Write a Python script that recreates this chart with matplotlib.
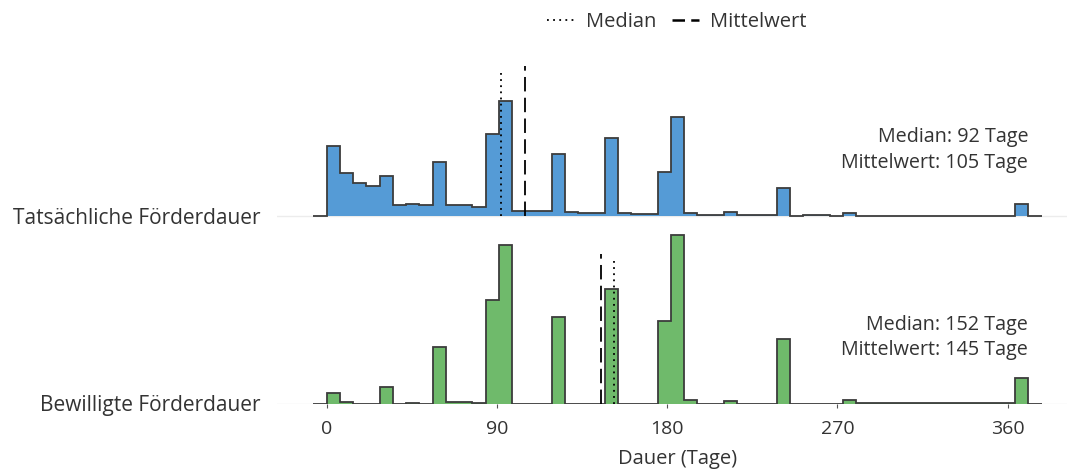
import numpy as np
import matplotlib
matplotlib.use("Agg")
import matplotlib.pyplot as plt
from matplotlib.lines import Line2D

plt.rcParams['font.family'] = ['Open Sans', 'DejaVu Sans']

# ---------------- data ----------------
rows = ["Bewilligte Förderdauer", "Tatsächliche Förderdauer"]
bin_start = -7
bin_width = 7  # days

# share of cases per weekly bin (percent), first bin [-7, 0) is empty
actual_pct = [0.0,
    7.7, 4.8, 3.6, 3.3, 4.4, 1.25, 1.3, 1.2, 6.0, 1.25, 1.2, 0.95, 9.1, 12.7,
    0.6, 0.6, 0.6, 6.85, 0.4, 0.38, 0.33, 8.6, 0.33, 0.25, 0.25, 4.9, 10.9,
    0.36, 0.08, 0.06, 0.4, 0.06, 0.06, 0.06, 3.1, 0.04, 0.06, 0.06, 0.04, 0.33,
    0.03, 0.03, 0.03, 0.03, 0.03, 0.03, 0.03, 0.03, 0.03, 0.03, 0.03, 0.03,
    1.36, 0.0]
approved_pct = [0.0,
    1.14, 0.14, 0.0, 0.0, 1.77, 0.0, 0.08, 0.0, 6.2, 0.22, 0.14, 0.03, 11.4, 17.5,
    0.0, 0.0, 0.0, 9.6, 0.0, 0.0, 0.0, 12.7, 0.0, 0.0, 0.0, 9.1, 18.6,
    0.36, 0.0, 0.0, 0.33, 0.0, 0.0, 0.0, 7.1, 0.0, 0.0, 0.0, 0.0, 0.44,
    0.02, 0.02, 0.02, 0.02, 0.02, 0.02, 0.02, 0.02, 0.02, 0.02, 0.02, 0.02,
    2.84, 0.0]

medians = [152, 92]   # bewilligt, tatsächlich
means = [145, 105]
colors = ["#6fba6b", "#559bd6"]
xticks = [0, 90, 180, 270, 360]

# ---------------- figure ----------------
W, H = 1067, 470
fig = plt.figure(figsize=(W / 100, H / 100), dpi=100)
ax_left, ax_right = 277, 1078
ax_bottom, ax_top = 403.5, 50
ax = fig.add_axes([ax_left / W, 1 - ax_bottom / H,
                   (ax_right - ax_left) / W, (ax_bottom - ax_top) / H])

row_px = 187.5
ax.set_ylim(0, (ax_bottom - ax_top) / row_px)
ax.set_xlim(-26.25, 397.25)

scale = 9.05 / row_px  # per percent
edge_col = "#3c3c3c"
data = [approved_pct, actual_pct]
txt_col = "#333333"

for i, vals in enumerate(data):
    vals = np.asarray(vals)
    edges = bin_start + bin_width * np.arange(len(vals) + 1)
    ax.stairs(vals * scale + i, edges, baseline=i, fill=True,
              color=colors[i], linewidth=0, zorder=2)
    ax.stairs(vals * scale + i, edges, baseline=i, fill=False,
              edgecolor=edge_col, linewidth=1.3, zorder=3)
    ax.vlines(medians[i], i, i + 145 / row_px, colors="black",
              linestyles=(0, (1, 2.4)), linewidth=1.3, zorder=4)
    ax.vlines(means[i], i, i + 150 / row_px, colors="black",
              linestyles=(0, (8, 3.5)), linewidth=1.3, zorder=4)
    ax.text(371, i + 0.42, f"Median: {medians[i]} Tage", ha="right",
            va="center", fontsize=14.2, color=txt_col)
    ax.text(371, i + 0.283, f"Mittelwert: {means[i]} Tage", ha="right",
            va="center", fontsize=14.2, color=txt_col)

ax.set_yticks([0, 1])
ax.set_yticklabels(rows, fontsize=15, color=txt_col)
ax.set_xticks(xticks)
ax.set_xticklabels([str(t) for t in xticks], fontsize=14, color=txt_col)
ax.tick_params(axis="y", length=0, pad=12)
ax.tick_params(axis="x", length=3, width=0.8, color="#555555", pad=9)
ax.set_xlabel("Dauer (Tage)", fontsize=14.5, color=txt_col, labelpad=8)
ax.grid(axis="y", color="#ececec", linewidth=1)
ax.grid(axis="x", visible=False)
ax.set_axisbelow(True)
for s in ax.spines.values():
    s.set_visible(False)

handles = [Line2D([], [], color="black", linestyle=(0, (1, 2.4)), linewidth=1.3),
           Line2D([], [], color="black", linestyle=(0, (5, 2.5)), linewidth=1.8)]
fig.legend(handles, ["Median", "Mittelwert"], loc="center",
           bbox_to_anchor=(677 / W, 1 - 22 / H), ncol=2, frameon=False,
           fontsize=14.5, handlelength=1.35, handletextpad=0.55, columnspacing=0.8,
           labelcolor=txt_col)

fig.savefig("out.png", dpi=100)
